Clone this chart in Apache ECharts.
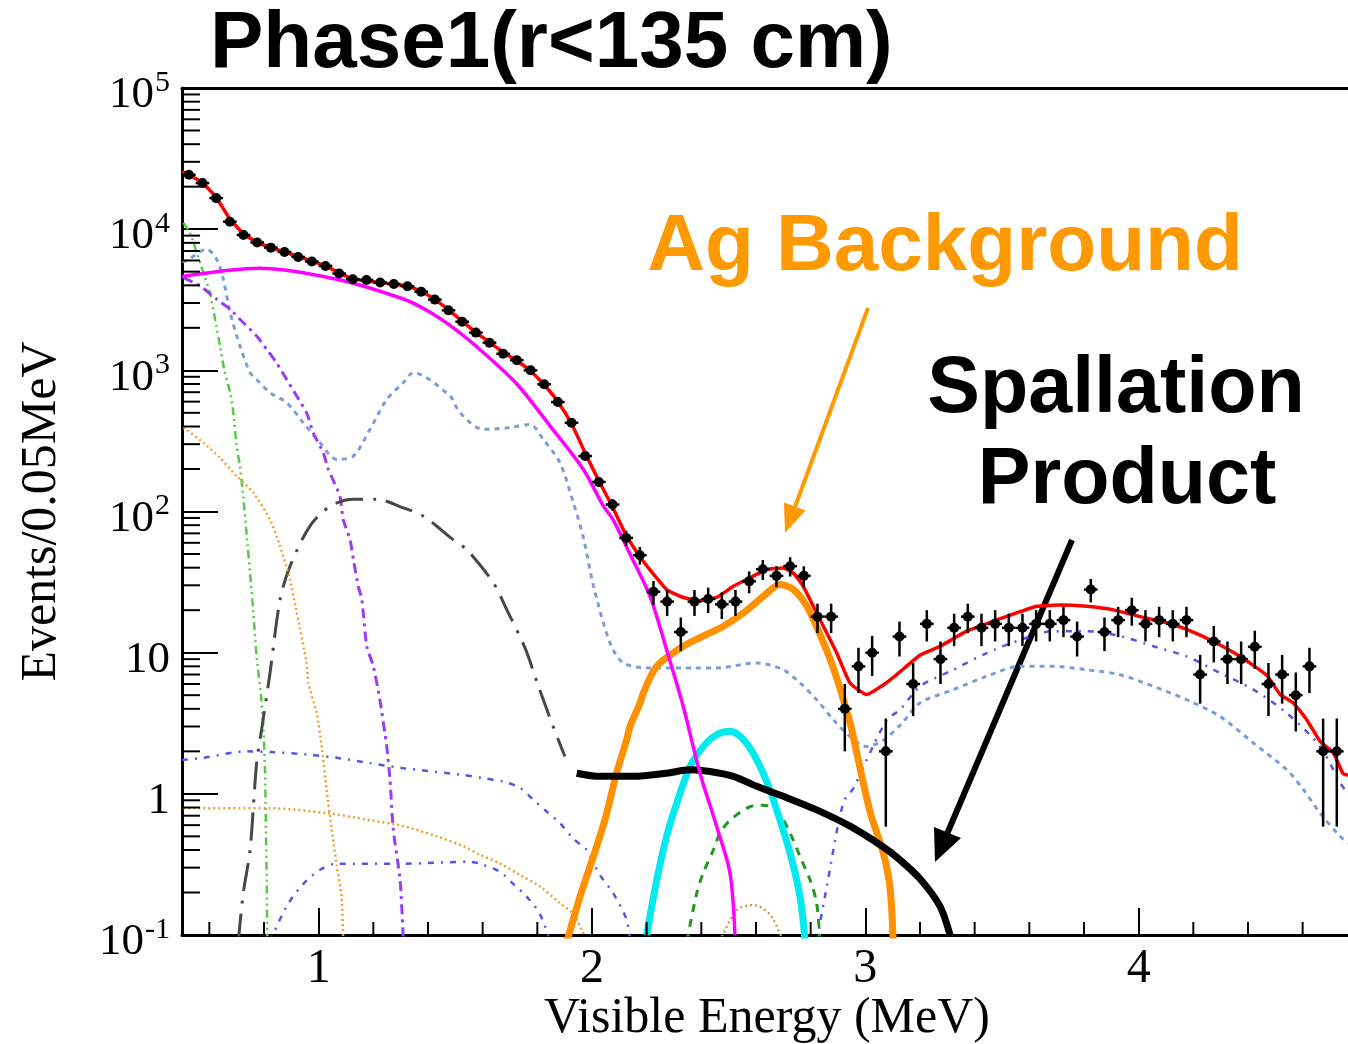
<!DOCTYPE html>
<html><head><meta charset="utf-8">
<script src="https://cdn.jsdelivr.net/npm/echarts@6/dist/echarts.min.js"></script>
<style>html,body{margin:0;padding:0;background:#fff}#c{width:1348px;height:1044px}</style>
</head><body><div id="c"></div>
<script>
// ---- data (bin centres of 0.05 MeV bins) ----
const energyBins = [0.525,0.575,0.625,0.675,0.725,0.775,0.825,0.875,0.925,0.975,1.025,1.075,1.125,1.175,1.225,1.275,1.325,1.375,1.425,1.475,1.525,1.575,1.625,1.675,1.725,1.775,1.825,1.875,1.925,1.975,2.025,2.075,2.125,2.175,2.225,2.275,2.325,2.375,2.425,2.475,2.525,2.575,2.625,2.675,2.725,2.775,2.825,2.875,2.925,2.975,3.025,3.075,3.125,3.175,3.225,3.275,3.325,3.375,3.425,3.475,3.525,3.575,3.625,3.675,3.725,3.775,3.825,3.875,3.925,3.975,4.025,4.075,4.125,4.175,4.225,4.275,4.325,4.375,4.425,4.475,4.525,4.575,4.625,4.675,4.725];
const dataCounts = [24300,21200,16600,11300,9100,8050,7400,6900,6360,5900,5490,4850,4420,4370,4190,4090,3940,3610,3170,2660,2210,1850,1570,1310,1180,1000,796,596,425,247,162,112,65,49,27,23,14,23,24,22,23,32,39,35,41,35,18,18,4,8,10,2,13,6,16,9,15,18,15,16,15,15,16,16,17,13,28,14,17,20,16,17,16,17,7,12,9,9,11,6,7,5,8,2,2];

const totalFit = [[0.5,25500],[0.525,24300],[0.575,21300],[0.625,16800],[0.675,11800],[0.725,9300],[0.775,8100],[0.825,7400],[0.875,6900],[0.925,6400],[0.975,5950],[1.025,5500],[1.075,4900],[1.125,4450],[1.175,4300],[1.225,4180],[1.275,4080],[1.325,3950],[1.375,3620],[1.425,3180],[1.475,2680],[1.525,2230],[1.575,1860],[1.625,1580],[1.675,1340],[1.725,1170],[1.775,990],[1.825,790],[1.875,600],[1.925,420],[1.975,260],[2.025,165],[2.075,108],[2.125,68],[2.175,48],[2.225,36],[2.273,28],[2.334,24.6],[2.395,23.4],[2.456,24.6],[2.517,29.5],[2.578,33.9],[2.639,38.8],[2.70,39.8],[2.737,36.6],[2.773,29.5],[2.822,19.1],[2.859,13.8],[2.896,9.9],[2.944,6.1],[3.005,5.05],[3.06,5.8],[3.115,7.0],[3.2,9.6],[3.274,11.1],[3.371,14.2],[3.469,16.7],[3.566,19.5],[3.627,21.3],[3.713,21.8],[3.81,21.3],[3.908,20.1],[4.005,18],[4.103,16.3],[4.176,14.6],[4.273,12.0],[4.371,9.4],[4.469,6.9],[4.518,5.05],[4.566,4.4],[4.615,3.35],[4.664,2.35],[4.713,1.94],[4.747,1.4],[4.766,1.35]];
const solarNu = [[0.5,4620],[0.785,5290],[1.066,4420],[1.31,3200],[1.4,2630],[1.5,1950],[1.6,1350],[1.725,800],[1.847,403],[1.968,199],[2.042,109],[2.078,87],[2.139,50],[2.212,25.1],[2.273,10.5],[2.334,4.16],[2.395,1.4],[2.456,0.59],[2.505,0.274],[2.523,0.1]];
const lightBlue = [[0.5,5900],[0.517,6000],[0.59,7200],[0.627,6100],[0.651,4420],[0.676,2570],[0.712,1490],[0.749,962],[0.773,862],[0.822,695],[0.883,590],[0.944,425],[1.005,307],[1.066,234],[1.127,247],[1.188,382],[1.249,622],[1.31,818],[1.346,962],[1.481,656],[1.517,500],[1.602,382],[1.7,393],[1.773,414],[1.822,324],[1.883,221],[1.932,115],[1.968,66],[2.005,30],[2.066,11.7],[2.115,8.45],[2.212,7.8],[2.371,7.8],[2.456,7.8],[2.603,8.45],[2.7,7.56],[2.761,6.1],[2.822,4.64],[2.883,3.35],[2.944,2.55],[3.005,2.16],[3.066,2.4],[3.13,3.1],[3.2,4.4],[3.322,5.47],[3.444,6.8],[3.566,8.0],[3.688,8.0],[3.81,7.56],[3.932,6.98],[4.054,5.77],[4.176,4.64],[4.298,3.53],[4.42,2.29],[4.542,1.48],[4.603,1.07],[4.664,0.73],[4.737,0.5],[4.766,0.45]];
const greenDdd = [[0.505,11100],[0.529,9460],[0.554,6820],[0.578,4920],[0.602,3550],[0.621,2300],[0.639,1490],[0.655,1000],[0.676,700],[0.688,500],[0.7,290],[0.712,210],[0.724,128],[0.737,67],[0.749,36.7],[0.761,19.1],[0.773,9.4],[0.789,5.0],[0.797,3.16],[0.804,1.4],[0.807,0.556],[0.81,0.245],[0.812,0.09]];
const purpleDd = [[0.505,4540],[0.566,3960],[0.627,3190],[0.676,2710],[0.724,2180],[0.773,1750],[0.81,1410],[0.846,1130],[0.883,862],[0.92,656],[0.956,500],[0.98,361],[1.017,260],[1.035,199],[1.054,165],[1.078,128],[1.09,87.7],[1.115,63],[1.127,45.7],[1.145,29.5],[1.158,23.8],[1.176,11.1],[1.2,8.0],[1.224,4.64],[1.249,2.16],[1.261,1.26],[1.273,0.556],[1.298,0.245],[1.31,0.09]];
const grayLdd = [[0.706,0.09],[0.724,0.197],[0.749,0.4],[0.773,1.65],[0.792,2.92],[0.822,7.18],[0.859,23.8],[0.895,40.9],[0.968,78.7],[1.042,109],[1.127,122],[1.212,122],[1.31,106],[1.383,92.7],[1.493,63],[1.542,53.7],[1.639,31.3],[1.688,20.2],[1.755,10.8],[1.798,6.25],[1.853,3.17],[1.901,1.84]];
const blueUpper = [[0.5,1.74],[0.578,1.8],[0.737,2.0],[0.822,1.98],[0.968,1.89],[1.066,1.8],[1.188,1.65],[1.31,1.52],[1.529,1.36],[1.602,1.29],[1.676,1.22],[1.737,1.1],[1.785,0.91],[1.834,0.75],[1.883,0.62],[1.932,0.48],[1.981,0.4],[2.029,0.266],[2.078,0.197],[2.127,0.128],[2.139,0.09]];
const blueLower = [[0.822,0.09],[0.883,0.16],[0.944,0.23],[1.005,0.29],[1.066,0.32],[1.31,0.32],[1.554,0.33],[1.59,0.32],[1.664,0.28],[1.712,0.23],[1.761,0.187],[1.81,0.14],[1.847,0.09]];
const blueRight = [[2.822,0.09],[2.859,0.22],[2.919,0.86],[2.957,1.1],[3.005,1.74],[3.078,3.3],[3.13,4.0],[3.2,5.77],[3.322,7.56],[3.444,9.93],[3.566,12.3],[3.688,14.2],[3.81,14.2],[3.932,13.1],[4.054,11.1],[4.176,9.4],[4.298,7.18],[4.42,5.47],[4.542,3.73],[4.664,2.16],[4.737,1.2],[4.766,1.0]];
const orangeUpper = [[0.505,395],[0.578,307],[0.639,240],[0.7,178],[0.761,136],[0.822,87.7],[0.859,56.8],[0.895,33],[0.92,19.1],[0.956,8.45],[0.962,6.1],[0.993,3.73],[1.011,2.16],[1.029,1.07],[1.048,0.556],[1.066,0.31],[1.084,0.187],[1.09,0.09]];
const orangeLower = [[0.505,0.79],[0.822,0.79],[1.029,0.73],[1.188,0.65],[1.31,0.59],[1.432,0.5],[1.535,0.42],[1.59,0.37],[1.664,0.32],[1.737,0.266],[1.81,0.22],[1.883,0.168],[1.932,0.14],[1.981,0.09]];
const tanBump = [[2.468,0.09],[2.53,0.15],[2.591,0.163],[2.651,0.14],[2.7,0.09]];
const greenDash = [[2.347,0.09],[2.383,0.197],[2.407,0.275],[2.444,0.4],[2.468,0.526],[2.505,0.65],[2.578,0.81],[2.627,0.83],[2.676,0.77],[2.725,0.526],[2.761,0.36],[2.798,0.245],[2.822,0.168],[2.834,0.09]];
const cyanPeak = [[2.2,0.1],[2.237,0.245],[2.273,0.5],[2.31,0.86],[2.359,1.56],[2.407,2.16],[2.456,2.62],[2.505,2.77],[2.554,2.42],[2.603,1.74],[2.651,1.07],[2.688,0.65],[2.725,0.378],[2.761,0.187],[2.78,0.09]];
const agBackground = [[1.908,0.09],[1.956,0.187],[1.968,0.22],[2.005,0.36],[2.029,0.5],[2.054,0.73],[2.09,1.4],[2.127,2.42],[2.139,3.0],[2.176,4.4],[2.188,5.18],[2.237,8.0],[2.334,11.1],[2.407,13.1],[2.481,15.4],[2.554,19.1],[2.627,25.1],[2.688,30.4],[2.737,28],[2.786,21.3],[2.834,13.5],[2.883,7.8],[2.944,3.2],[2.969,1.94],[3.017,0.75],[3.066,0.38],[3.09,0.22],[3.102,0.09]];
const spallation = [[1.944,1.4],[2.029,1.33],[2.151,1.33],[2.273,1.4],[2.359,1.48],[2.432,1.44],[2.517,1.33],[2.603,1.13],[2.7,0.96],[2.822,0.77],[2.944,0.59],[3.066,0.42],[3.127,0.34],[3.2,0.25],[3.273,0.16],[3.31,0.1]];

const xMajorTicks = [1,2,3,4];
const xMinorTicks = [0.6,0.8,1.2,1.4,1.6,1.8,2.2,2.4,2.6,2.8,3.2,3.4,3.6,3.8,4.2,4.4,4.6];
const yMinorTicks = [0.2,0.3,0.4,0.5,0.6,0.7,0.8,0.9,2,3,4,5,6,7,8,9,20,30,40,50,60,70,80,90,200,300,400,500,600,700,800,900,2000,3000,4000,5000,6000,7000,8000,9000,20000,30000,40000,50000,60000,70000,80000,90000];

const X_MIN = 0.5, X_MAX = 4.766, Y_MIN = 0.1, Y_MAX = 100000;
const SERIF = '"Liberation Serif","Times New Roman",serif';
const SANS = '"Liberation Sans",Arial,sans-serif';

function curve(name, data, color, width, type, z, smooth) {
  return {name, type:'line', data, showSymbol:false, symbol:'none', smooth: smooth==null?0.3:smooth,
    lineStyle:{color, width, type}, z: z||2, silent:true, clip:true};
}

const chart = echarts.init(document.getElementById('c'), null, {renderer:'canvas'});
chart.setOption({
  animation:false,
  backgroundColor:'#fff',
  grid:{left:182, right:0, top:88, bottom:109, containLabel:false, outerBoundsMode:'none'},
  xAxis:[{
    type:'value', min:X_MIN, max:X_MAX, position:'bottom',
    axisLine:{show:true, onZero:false, lineStyle:{color:'#000', width:3}},
    axisTick:{show:true, inside:true, length:27, lineStyle:{color:'#000', width:2}, customValues:xMajorTicks},
    axisLabel:{show:true, customValues:xMajorTicks, color:'#000', fontFamily:SERIF, fontSize:48, margin:10},
    splitLine:{show:false}
  },{
    type:'value', min:X_MIN, max:X_MAX, position:'top',
    axisLine:{show:true, onZero:false, lineStyle:{color:'#000', width:3}},
    axisTick:{show:false}, axisLabel:{show:false}, splitLine:{show:false}
  }],
  yAxis:{
    type:'log', logBase:10, min:Y_MIN, max:Y_MAX,
    axisLine:{show:true, onZero:false, lineStyle:{color:'#000', width:3}},
    axisTick:{show:true, inside:true, length:36, lineStyle:{color:'#000', width:2}},
    splitLine:{show:false},
    axisLabel:{
      margin:12, color:'#000', padding:[10,0,0,0],
      formatter:function(v){
        const e = Math.round(Math.log10(v));
        if (e === 0) return '{b|1}';
        if (e === 1) return '{b|10}';
        return '{b|10}{s|' + e + '}';
      },
      rich:{
        b:{fontFamily:SERIF, fontSize:45, color:'#000', lineHeight:50, verticalAlign:'bottom'},
        s:{fontFamily:SERIF, fontSize:30, color:'#000', lineHeight:30, verticalAlign:'top', padding:[0,0,0,1]}
      }
    },
    name:'Events/0.05MeV', nameLocation:'middle', nameGap:115, nameRotate:90,
    nameTextStyle:{color:'#000', fontFamily:SERIF, fontSize:50}
  },
  series:[
    curve('lightblue', lightBlue, '#7d9dd9', 3, [5,5], 2),
    curve('green ddd', greenDdd, '#55cc44', 2.5, [8,4,2,4,2,4], 2, 0.2),
    curve('purple', purpleDd, '#9a3cf5', 3, [10,5,3,5], 2, 0.2),
    curve('gray', grayLdd, '#474747', 3, [28,10,3,10], 2),
    curve('blue upper', blueUpper, '#5656e0', 2.5, [6,7,2,7], 2),
    curve('blue lower', blueLower, '#5656e0', 2.5, [6,7,2,7], 2),
    curve('blue right', blueRight, '#5656e0', 2.5, [6,7,2,7], 2),
    curve('orange upper', orangeUpper, '#f0a030', 2.5, [2,3], 2, 0.2),
    curve('orange lower', orangeLower, '#f0a030', 2.5, [2,3], 2),
    curve('tan', tanBump, '#cc9f50', 2.5, [2,3], 2),
    curve('green dash', greenDash, '#1f991f', 3, [8,7], 2),
    curve('ag', agBackground, '#ff9000', 7, 'solid', 3),
    curve('cyan', cyanPeak, '#00eaf0', 7, 'solid', 3),
    curve('spallation', spallation, '#000', 7, 'solid', 3),
    curve('solar', solarNu, '#ff00ff', 3.5, 'solid', 4),
    curve('total', totalFit, '#ff0000', 3.5, 'solid', 5, 0.15),
    {
      type:'custom', z:10, silent:true,
      data: energyBins.map((e,i)=>[e, dataCounts[i]]),
      renderItem:function(params, api){
        const x = api.value(0), y = api.value(1), err = Math.sqrt(y); // Poisson errors
        const c = api.coord([x,y]);
        const hi = api.coord([x, Math.min(y+err, Y_MAX)]);
        const lo = api.coord([x, Math.max(y-err, Y_MIN)]);
        const l = api.coord([x-0.025, y]), r = api.coord([x+0.025, y]);
        return {type:'group', children:[
          {type:'line', shape:{x1:hi[0],y1:hi[1],x2:lo[0],y2:lo[1]}, style:{stroke:'#000', lineWidth:2.5}},
          {type:'line', shape:{x1:l[0],y1:l[1],x2:r[0],y2:r[1]}, style:{stroke:'#000', lineWidth:2.5}},
          {type:'circle', shape:{cx:c[0],cy:c[1],r:5}, style:{fill:'#000'}}
        ]};
      }
    },
    {
      type:'custom', z:11, silent:true,
      data: yMinorTicks.map(v=>[X_MIN, v]),
      renderItem:function(params, api){
        const p = api.coord([api.value(0), api.value(1)]);
        return {type:'line', shape:{x1:p[0],y1:p[1],x2:p[0]+18,y2:p[1]}, style:{stroke:'#000', lineWidth:2}};
      }
    },
    {
      type:'custom', z:11, silent:true,
      data: xMinorTicks.map(v=>[v, Y_MIN]),
      renderItem:function(params, api){
        const p = api.coord([api.value(0), api.value(1)]);
        return {type:'line', shape:{x1:p[0],y1:p[1],x2:p[0],y2:p[1]-13}, style:{stroke:'#000', lineWidth:2}};
      }
    }
  ],
  graphic:[
    {type:'text', x:210, y:45, style:{text:'Phase1(r<135 cm)', font:'bold 80px ' + SANS, fill:'#000', align:'left', verticalAlign:'middle'}},
    {type:'text', x:767, y:1019, style:{text:'Visible Energy (MeV)', font:'50px ' + SERIF, fill:'#000', align:'center', verticalAlign:'middle'}},
    {type:'text', x:945, y:248, style:{text:'Ag Background', font:'bold 80px ' + SANS, fill:'#ff9900', align:'center', verticalAlign:'middle'}},
    {type:'text', x:1116, y:390, style:{text:'Spallation', font:'bold 79px ' + SANS, fill:'#000', align:'center', verticalAlign:'middle'}},
    {type:'text', x:1127, y:481, style:{text:'Product', font:'bold 79px ' + SANS, fill:'#000', align:'center', verticalAlign:'middle'}},
    {type:'line', shape:{x1:868,y1:308,x2:795,y2:507}, style:{stroke:'#ff9900', lineWidth:4}},
    {type:'polygon', shape:{points:[[785,533],[805.5,510.5],[784,502.5]]}, style:{fill:'#ff9900'}},
    {type:'line', shape:{x1:1072,y1:540,x2:947,y2:834}, style:{stroke:'#000', lineWidth:6}},
    {type:'polygon', shape:{points:[[935,862],[961,838],[934,827]]}, style:{fill:'#000'}}
  ]
});
</script></body></html>
